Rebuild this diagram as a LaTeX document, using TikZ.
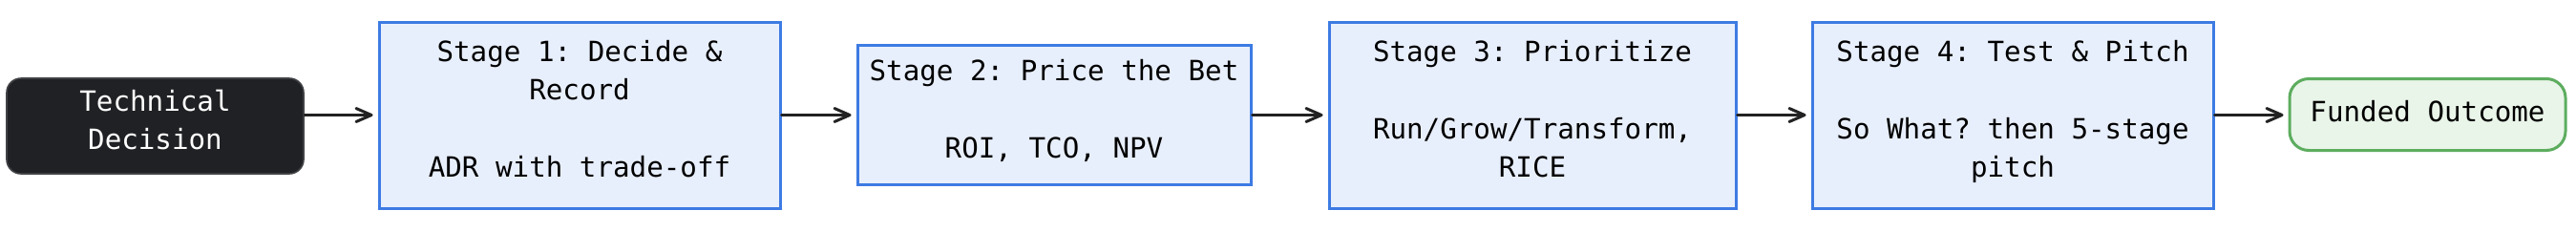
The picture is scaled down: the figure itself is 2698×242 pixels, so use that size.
\documentclass[tikz,border=0pt]{standalone}
\usepackage{fontspec}
\setmonofont{DejaVu Sans Mono}
\usetikzlibrary{arrows.meta}
\definecolor{stagefill}{HTML}{E8EFFC}
\definecolor{stageline}{HTML}{3D7BE3}
\definecolor{darkfill}{HTML}{202124}
\definecolor{okfill}{HTML}{E9F5E9}
\definecolor{okline}{HTML}{5DAD5F}
\definecolor{arrowc}{HTML}{222222}
\newcommand\mystrut{\rule[-6.65pt]{0pt}{20.3pt}}
\begin{document}
\begin{tikzpicture}[x=0.5pt,y=-0.5pt,
  base/.style={inner sep=0pt, align=center,
    font=\ttfamily\fontsize{14.6}{20.3}\selectfont,
    execute at begin node=\mystrut, execute at end node=\mystrut},
  stagebox/.style={base, draw=stageline, fill=stagefill, line width=1.5pt},
  darkbox/.style={base, draw=darkfill!85, fill=darkfill, text=white, line width=0.8pt, rounded corners=7.5pt},
  okbox/.style={base, draw=okline, fill=okfill, line width=1.5pt, rounded corners=10pt},
  flow/.style={draw=arrowc, line width=1.5pt, line cap=round,
    -{Straight Barb[length=8pt,width=7pt,line cap=round,line join=round]}, shorten >=2.5pt}
]
\useasboundingbox (0,0) rectangle (2698,242);
\node[darkbox, minimum width=155.5pt, minimum height=50pt] (td) at (162.5,132) {Technical\\Decision};
\node[stagebox, minimum width=210pt, minimum height=97.5pt] (s1) at (607,120.5) {Stage 1: Decide \&\\Record\\[20.3pt]ADR with trade-off};
\node[stagebox, minimum width=206pt, minimum height=73pt] (s2) at (1104,120.5) {Stage 2: Price the Bet\\[20.3pt]ROI, TCO, NPV};
\node[stagebox, minimum width=213pt, minimum height=97.5pt] (s3) at (1605,120.5) {Stage 3: Prioritize\\[20.3pt]Run/Grow/Transform,\\RICE};
\node[stagebox, minimum width=210pt, minimum height=97.5pt] (s4) at (2108,120.5) {Stage 4: Test \& Pitch\\[20.3pt]So What? then 5-stage\\pitch};
\node[okbox, minimum width=144.5pt, minimum height=37.5pt] (fo) at (2542.5,120) {Funded Outcome};
\draw[flow] (td.east |- s1.west) -- (s1.west);
\draw[flow] (s1.east) -- (s2.west |- s1.east);
\draw[flow] (s2.east) -- (s3.west |- s2.east);
\draw[flow] (s3.east) -- (s4.west |- s3.east);
\draw[flow] (s4.east) -- (fo.west |- s4.east);
\end{tikzpicture}
\end{document}
